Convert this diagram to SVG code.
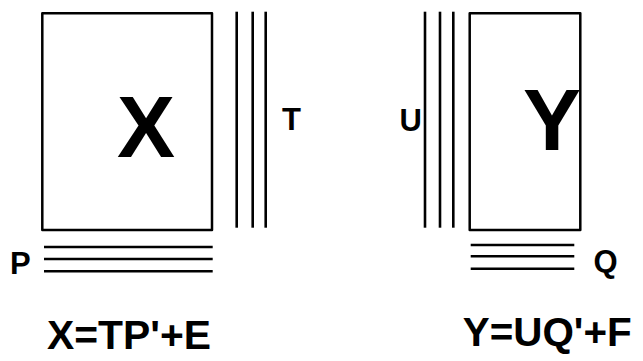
<svg xmlns="http://www.w3.org/2000/svg" width="643" height="361" viewBox="0 0 643 361">
<style>
.box{fill:none;stroke:#000;stroke-width:2.5;stroke-linejoin:round}
.ln{stroke:#000;stroke-width:2.6;fill:none}
text{font-family:"Liberation Sans",Arial,sans-serif;font-weight:bold;fill:#000}
.lbl{font-size:31px}
.big{font-size:87px}
.eq{font-size:40px}
</style>
<rect width="643" height="361" fill="#fff"/>
<g id="nodeX">
<rect class="box" x="42.3" y="13.3" width="169.7" height="216.7"/>
<text class="big" x="117" y="157">X</text>
</g>
<g id="nodeT">
<line class="ln" x1="236.7" y1="11.7" x2="236.7" y2="227.7"/>
<line class="ln" x1="252.7" y1="11.7" x2="252.7" y2="227.7"/>
<line class="ln" x1="265.7" y1="11.7" x2="265.7" y2="227.7"/>
<text class="lbl" x="282" y="130">T</text>
</g>
<g id="nodeP">
<line class="ln" x1="44" y1="247" x2="212.7" y2="247"/>
<line class="ln" x1="44" y1="259" x2="212.7" y2="259"/>
<line class="ln" x1="44" y1="271.3" x2="212.7" y2="271.3"/>
<text class="lbl" x="10" y="274">P</text>
</g>
<g id="nodeY">
<rect class="box" x="469.7" y="13.3" width="110.6" height="216.7"/>
<text class="big" x="523" y="150">Y</text>
</g>
<g id="nodeU">
<line class="ln" x1="425" y1="11.7" x2="425" y2="227.7"/>
<line class="ln" x1="440" y1="11.7" x2="440" y2="227.7"/>
<line class="ln" x1="453.3" y1="11.7" x2="453.3" y2="227.7"/>
<text class="lbl" x="399.5" y="130.5">U</text>
</g>
<g id="nodeQ">
<line class="ln" x1="470.7" y1="245" x2="574.3" y2="245"/>
<line class="ln" x1="470.7" y1="256.3" x2="574.3" y2="256.3"/>
<line class="ln" x1="470.7" y1="268.7" x2="574.3" y2="268.7"/>
<text class="lbl" x="593.5" y="272">Q</text>
</g>
<g id="eqX">
<text class="eq" x="47" y="349" textLength="164" lengthAdjust="spacingAndGlyphs">X=TP'+E</text>
</g>
<g id="eqY">
<text class="eq" x="462.7" y="346" textLength="169" lengthAdjust="spacingAndGlyphs">Y=UQ'+F</text>
</g>
<g id="connectors"></g>
</svg>
